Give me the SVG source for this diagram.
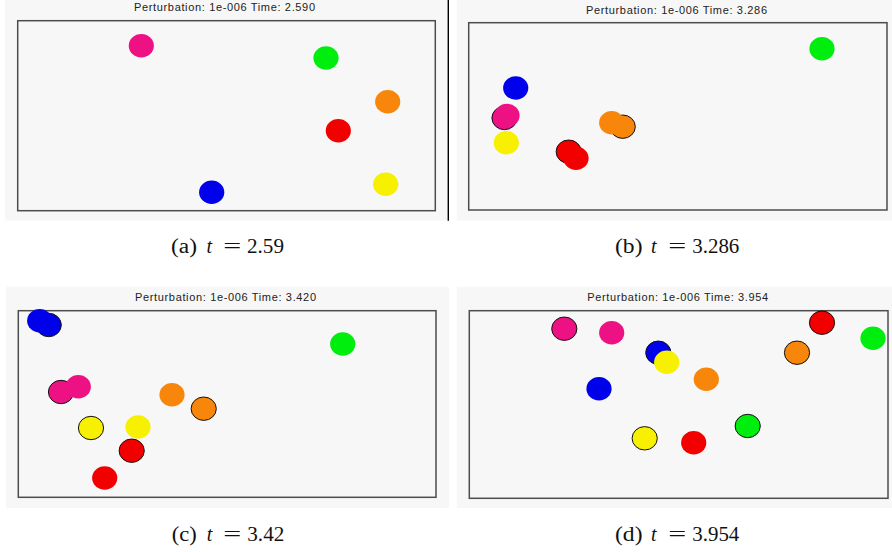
<svg xmlns="http://www.w3.org/2000/svg" width="892" height="552" viewBox="0 0 892 552">
<style>
.bg{fill:#f7f7f7}
.frame{fill:#f7f7f7;stroke:#4d4d4d;stroke-width:1.5}
.title{font-family:"Liberation Sans",Arial,sans-serif;font-size:11px;fill:#222;text-anchor:middle}
.cap{font-family:"Liberation Serif","Times New Roman",serif;font-size:20px;fill:#111}
.it{font-style:italic}
.o{stroke:#111;stroke-width:1}
.pink{fill:#ee1184}
.green{fill:#00ee0e}
.orange{fill:#f7860a}
.red{fill:#f20000}
.yellow{fill:#f7f000}
.blue{fill:#0000ea}
</style>
<rect x="0" y="0" width="892" height="552" fill="#ffffff"/>

<g id="panel-a">
<rect class="bg" x="5" y="0" width="443" height="220.5"/>
<line x1="448.3" y1="0" x2="448.3" y2="220.7" stroke="#000" stroke-width="1.4"/>
<text class="title" x="224.5" y="11" textLength="181" lengthAdjust="spacing">Perturbation: 1e-006 Time: 2.590</text>
<rect class="frame" x="17.7" y="20.7" width="417.6" height="190"/>
<ellipse class="pink" cx="141.3" cy="45.7" rx="12.6" ry="11.7"/>
<ellipse class="green" cx="326" cy="58" rx="12.6" ry="11.7"/>
<ellipse class="orange" cx="387.7" cy="101.7" rx="12.6" ry="11.7"/>
<ellipse class="red" cx="338.3" cy="130.7" rx="12.6" ry="11.7"/>
<ellipse class="yellow" cx="385.7" cy="184.3" rx="12.6" ry="11.7"/>
<ellipse class="blue" cx="211.7" cy="192.3" rx="12.6" ry="11.7"/>
</g>

<g id="panel-b">
<rect class="bg" x="456.7" y="0" width="435.3" height="220.5"/>
<text class="title" x="676.5" y="13.5" textLength="181" lengthAdjust="spacing">Perturbation: 1e-006 Time: 3.286</text>
<rect class="frame" x="468.7" y="22.7" width="418.3" height="187.3"/>
<ellipse class="green" cx="822" cy="48.7" rx="12.6" ry="11.7"/>
<ellipse class="blue" cx="515.7" cy="88" rx="12.6" ry="11.7"/>
<ellipse class="pink o" cx="504.5" cy="118" rx="12.6" ry="11.7"/>
<ellipse class="pink" cx="507" cy="115.5" rx="12.6" ry="11.7"/>
<ellipse class="yellow" cx="506.3" cy="142.7" rx="12.6" ry="11.7"/>
<ellipse class="red o" cx="568.7" cy="151.7" rx="12.6" ry="11.7"/>
<ellipse class="red" cx="576" cy="158.3" rx="12.6" ry="11.7"/>
<ellipse class="orange o" cx="622.7" cy="126.7" rx="12.6" ry="11.7"/>
<ellipse class="orange" cx="611.7" cy="122.7" rx="12.6" ry="11.7"/>
</g>

<g id="panel-c">
<rect class="bg" x="6" y="286.7" width="443" height="221.3"/>
<text class="title" x="225.5" y="301" textLength="181" lengthAdjust="spacing">Perturbation: 1e-006 Time: 3.420</text>
<rect class="frame" x="18.3" y="310.7" width="417.7" height="186.6"/>
<ellipse class="blue o" cx="48.7" cy="325" rx="12.6" ry="11.7"/>
<ellipse class="blue" cx="39.7" cy="320.7" rx="12.6" ry="11.7"/>
<ellipse class="green" cx="342.7" cy="344" rx="12.6" ry="11.7"/>
<ellipse class="pink o" cx="61" cy="392" rx="12.6" ry="11.7"/>
<ellipse class="pink" cx="78.3" cy="386.7" rx="12.6" ry="11.7"/>
<ellipse class="orange" cx="172" cy="394.7" rx="12.6" ry="11.7"/>
<ellipse class="orange o" cx="203.7" cy="408.7" rx="12.6" ry="11.7"/>
<ellipse class="yellow o" cx="91" cy="428" rx="12.6" ry="11.7"/>
<ellipse class="yellow" cx="138" cy="427" rx="12.6" ry="11.7"/>
<ellipse class="red o" cx="131.7" cy="450.7" rx="12.6" ry="11.7"/>
<ellipse class="red" cx="104.7" cy="478" rx="12.6" ry="11.7"/>
</g>

<g id="panel-d">
<rect class="bg" x="456.7" y="286.7" width="435.3" height="221.3"/>
<text class="title" x="677.7" y="301" textLength="181" lengthAdjust="spacing">Perturbation: 1e-006 Time: 3.954</text>
<rect class="frame" x="469.3" y="310.7" width="418.7" height="187.6"/>
<ellipse class="pink o" cx="564.3" cy="328.7" rx="12.6" ry="11.7"/>
<ellipse class="pink" cx="611.7" cy="332.7" rx="12.6" ry="11.7"/>
<ellipse class="blue o" cx="658.3" cy="352.7" rx="12.6" ry="11.7"/>
<ellipse class="yellow" cx="666.7" cy="362.3" rx="12.6" ry="11.7"/>
<ellipse class="orange" cx="706.3" cy="379.3" rx="12.6" ry="11.7"/>
<ellipse class="blue" cx="599" cy="388.7" rx="12.6" ry="11.7"/>
<ellipse class="red o" cx="822" cy="322.7" rx="12.6" ry="11.7"/>
<ellipse class="green" cx="873" cy="338.3" rx="12.6" ry="11.7"/>
<ellipse class="orange o" cx="797" cy="352.7" rx="12.6" ry="11.7"/>
<ellipse class="green o" cx="747.7" cy="426" rx="12.6" ry="11.7"/>
<ellipse class="yellow o" cx="644.7" cy="438.3" rx="12.6" ry="11.7"/>
<ellipse class="red" cx="693.7" cy="442.7" rx="12.6" ry="11.7"/>
</g>

<g id="captions">
<g id="cap-a">
<text class="cap" x="171" y="253" textLength="26" lengthAdjust="spacingAndGlyphs">(a)</text>
<text class="cap it" x="206.5" y="253">t</text>
<text class="cap" x="223.3" y="253" textLength="18" lengthAdjust="spacingAndGlyphs">=</text>
<text class="cap" x="247" y="253" textLength="37" lengthAdjust="spacingAndGlyphs">2.59</text>
</g>
<g id="cap-b">
<text class="cap" x="615" y="253" textLength="27.5" lengthAdjust="spacingAndGlyphs">(b)</text>
<text class="cap it" x="651" y="253">t</text>
<text class="cap" x="668.3" y="253" textLength="18" lengthAdjust="spacingAndGlyphs">=</text>
<text class="cap" x="692.3" y="253" textLength="47" lengthAdjust="spacingAndGlyphs">3.286</text>
</g>
<g id="cap-c">
<text class="cap" x="171.7" y="541" textLength="25" lengthAdjust="spacingAndGlyphs">(c)</text>
<text class="cap it" x="206.7" y="541">t</text>
<text class="cap" x="223.3" y="541" textLength="18" lengthAdjust="spacingAndGlyphs">=</text>
<text class="cap" x="247.3" y="541" textLength="37" lengthAdjust="spacingAndGlyphs">3.42</text>
</g>
<g id="cap-d">
<text class="cap" x="615" y="541" textLength="27.5" lengthAdjust="spacingAndGlyphs">(d)</text>
<text class="cap it" x="651" y="541">t</text>
<text class="cap" x="668.3" y="541" textLength="18" lengthAdjust="spacingAndGlyphs">=</text>
<text class="cap" x="692.3" y="541" textLength="47" lengthAdjust="spacingAndGlyphs">3.954</text>
</g>
</g>
</svg>
